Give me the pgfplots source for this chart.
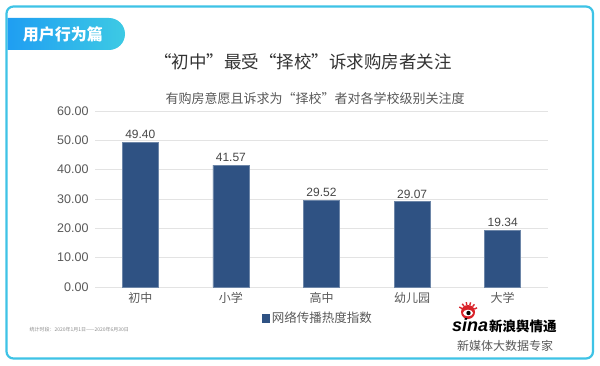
\documentclass[border=0pt]{standalone}
\usepackage{fontspec}
\usepackage{pgfplots}
\pgfplotsset{compat=1.18}
\setmainfont{Liberation Sans}
\newfontfamily\cjk{Noto Sans CJK SC}
\definecolor{border}{HTML}{3EC3E6}
\definecolor{tagL}{HTML}{1F9EF2}
\definecolor{tagR}{HTML}{3DCAE4}
\definecolor{barblue}{HTML}{2F5283}
\definecolor{txt}{HTML}{595959}
\definecolor{ttl}{HTML}{333333}
\definecolor{sinared}{HTML}{D9232A}
\begin{document}
\begin{tikzpicture}[x=1pt,y=1pt]
\useasboundingbox (0,0) rectangle (600,365);
\fill[white] (0,0) rectangle (600,365);
\draw[border, line width=2.2pt, rounded corners=7pt] (6.5,6.5) rectangle (593,358.5);
\shade[left color=tagL, right color=tagR] (7.5,347) -- (109,347) arc (90:-90:16) -- (7.5,315) -- cycle;
\node[text=white, font=\cjk\bfseries\fontsize{16}{16}\selectfont] at (63,331) {用户行为篇};
\node[text=ttl, font=\cjk\fontsize{17.5}{17.5}\selectfont] at (303,303) {“初中”最受“择校”诉求购房者关注};
\node[text=txt, font=\cjk\fontsize{13}{13}\selectfont] at (315,266) {有购房意愿且诉求为“择校”者对各学校级别关注度};
\begin{axis}[
  at={(95pt,78pt)}, anchor=south west, scale only axis,
  width=453pt, height=176pt,
  xmin=-0.5, xmax=4.5, ymin=0, ymax=60,
  ytick={0,10,20,30,40,50,60},
  xtick={0,1,2,3,4},
  xticklabels={初中,小学,高中,幼儿园,大学},
  axis line style={draw=none},
  major tick length=0pt,
  ymajorgrids, grid style={color=black!11, line width=0.6pt},
  tick label style={text=txt},
  yticklabel style={font=\fontsize{12.5}{12.5}\selectfont, xshift=-3pt},
  xticklabel style={font=\cjk\fontsize{12}{12}\selectfont, yshift=-2pt},
  /pgf/number format/.cd, fixed, fixed zerofill, precision=2, assume math mode=true,
  /pgfplots/.cd,
  ybar, bar width=36pt,
  nodes near coords,
  nodes near coords style={font=\fontsize{12}{12}\selectfont, text=txt!80!black, /pgf/number format/.cd, fixed, fixed zerofill, precision=2, assume math mode=true},
  legend style={at={(0.492,-0.176)}, anchor=center, draw=none, fill=none, font=\cjk\fontsize{12.5}{12.5}\selectfont, text=txt},
  legend image code/.code={\fill[barblue] (0pt,-3.8pt) rectangle (7.6pt,3.8pt);},
]
\addplot[fill=barblue, draw=barblue!70!white, line width=0.5pt] coordinates {(0,49.40) (1,41.57) (2,29.52) (3,29.07) (4,19.34)};
\addlegendentry{网络传播热度指数}
\end{axis}
\node[anchor=west, text=black!45, font=\cjk\fontsize{5}{5}\selectfont] at (26,35) {统计时段：2020年1月1日——2020年6月30日};
% sina logo
\fill[sinared] (468,53) circle (7);
\fill[white] (468,52) ellipse (5 and 3.3);
\fill[black] (468.5,52) circle (2.2);
\foreach \a in {25,50,75,100,125,150}{\draw[sinared, line width=1.4pt] (468,53)+(\a:7) -- +(\a:10);}
\node[anchor=west, font=\bfseries\itshape\fontsize{18}{18}\selectfont, inner sep=0pt] at (452,39.5) {sina};
\node[anchor=west, font=\cjk\bfseries\itshape\fontsize{13.5}{13.5}\selectfont, inner sep=0pt] at (489,39) {新浪舆情通};
\node[text=txt, font=\cjk\fontsize{12}{12}\selectfont] at (505,19) {新媒体大数据专家};
\end{tikzpicture}
\end{document}
